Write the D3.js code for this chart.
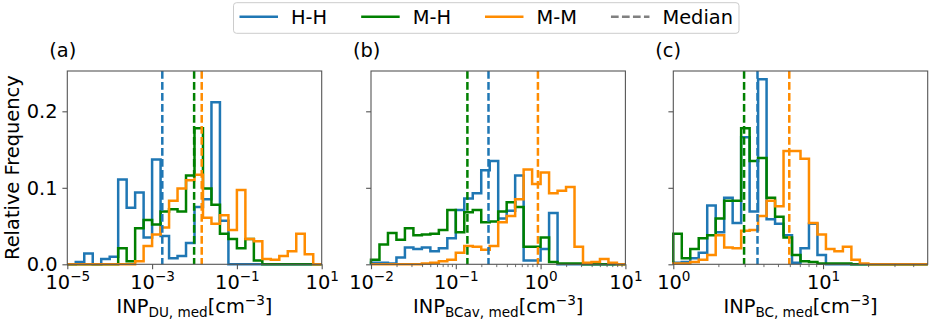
<!DOCTYPE html>
<html>
<head>
<meta charset="utf-8">
<script src="https://cdn.jsdelivr.net/npm/d3@7"></script>
<style>
  body { margin: 0; background: #fff; }
  svg text { font-family: "DejaVu Sans", sans-serif; fill: #000; }
</style>
</head>
<body>
<svg id="chart" width="931" height="326"></svg>
<script>
// ---- groups ----
const groups = ["H-H", "M-H", "M-M"];
const groupColors = ["#1f77b4", "#008000", "#ff8c00"];
const medianLabel = "Median";

// ---- relative frequency per log bin (30 bins per panel) ----
// (a) INP_DU,med, bins 1e-5 .. 1e1
const duHH = [0, 0.003, 0.014, 0, 0.007, 0.010, 0.111, 0.074, 0.094, 0.035,
              0.137, 0.037, 0.008, 0.011, 0.028, 0.075, 0.085, 0.212, 0.057, 0,
              0, 0, 0, 0, 0, 0, 0, 0, 0, 0];
const duMH = [0, 0, 0, 0, 0, 0, 0.021, 0.004, 0.047, 0.058,
              0.052, 0.069, 0.072, 0.069, 0.116, 0.178, 0.099, 0.078, 0.040, 0.033,
              0.021, 0.033, 0.005, 0, 0, 0, 0, 0, 0, 0];
const duMM = [0, 0, 0, 0, 0, 0, 0, 0, 0.004, 0.024,
              0.039, 0.048, 0.083, 0.099, 0.110, 0.117, 0.061, 0.053, 0.064, 0.045,
              0.097, 0.033, 0.030, 0.007, 0.006, 0.011, 0.017, 0.040, 0.013, 0];
// (b) INP_BCav,med, bins 1e-2 .. 1e1
const bcavHH = [0.002, 0.002, 0.001, 0.009, 0.022, 0.020, 0.022, 0.017, 0.021, 0.034,
                0.071, 0.086, 0.093, 0.123, 0.135, 0.060, 0.070, 0.116, 0.005, 0.005,
                0.020, 0.067, 0, 0, 0, 0, 0, 0, 0, 0];
const bcavMH = [0.006, 0.026, 0.041, 0.032, 0.047, 0.038, 0.039, 0.040, 0.045, 0.071,
                0.042, 0.068, 0.071, 0.055, 0.056, 0.069, 0.081, 0.075, 0.023, 0.023,
                0.035, 0.003, 0.001, 0.001, 0.001, 0, 0, 0, 0, 0];
const bcavMM = [0, 0, 0, 0, 0, 0, 0.001, 0.002, 0.004, 0.006,
                0.015, 0.024, 0.023, 0.019, 0.024, 0.055, 0.063, 0.085, 0.124, 0.105,
                0.120, 0.093, 0.096, 0.101, 0.023, 0.002, 0.003, 0.007, 0.002, 0];
// (c) INP_BC,med, bins 1 .. 50
const bcHH = [0.002, 0.003, 0.008, 0.015, 0.077, 0.042, 0.087, 0.054, 0.166, 0.069,
              0.242, 0.059, 0.053, 0.038, 0.002, 0.021, 0.053, 0.012, 0, 0,
              0, 0, 0, 0, 0, 0, 0, 0, 0, 0];
const bcMH = [0.040, 0.008, 0.020, 0.034, 0.038, 0.060, 0.083, 0.083, 0.178, 0.135,
              0.139, 0.087, 0.062, 0.035, 0.012, 0.004, 0.003, 0.001, 0.001, 0.001,
              0.001, 0, 0, 0, 0, 0, 0, 0, 0, 0];
const bcMM = [0.001, 0.001, 0.003, 0.006, 0.012, 0.038, 0.022, 0.021, 0.044, 0.045,
              0.063, 0.083, 0.076, 0.148, 0.148, 0.138, 0.054, 0.039, 0.020, 0.017,
              0.023, 0.006, 0.001, 0, 0, 0, 0, 0, 0, 0];

// ---- medians (cm^-3), in group order ----
const duMedians = [1.74e-3, 9.8e-3, 1.48e-2];
const bcavMedians = [0.243, 0.137, 0.93];
const bcMedians = [3.65, 2.97, 5.95];

// ---- axis ranges and ticks ----
const duRange = [1e-5, 10];
const bcavRange = [1e-2, 10];
const bcRange = [1, 50];
const duTicks = [1e-5, 1e-3, 1e-1, 1e1];
const bcavTicks = [1e-2, 1e-1, 1e0, 1e1];
const bcTicks = [1e0, 1e1];
const yTicks = [0, 0.1, 0.2];
const yMax = 0.2527;
const yLabel = "Relative Frequency";

// ---- layout ----
const fs = 19.4;
const lw = 2.5;
const dash = "7.7,3.3";
const plotTop = 71, plotBottom = 264.3, panelW = 254.4;
const spineColor = "#555";

const panels = [
  { tag: "(a)", x0: 67.3, range: duRange, ticks: duTicks, minor: false,
    values: [duHH, duMH, duMM], medians: duMedians, sub: "DU, med", yLabels: true },
  { tag: "(b)", x0: 371.0, range: bcavRange, ticks: bcavTicks, minor: true,
    values: [bcavHH, bcavMH, bcavMM], medians: bcavMedians, sub: "BCav, med", yLabels: false },
  { tag: "(c)", x0: 673.3, range: bcRange, ticks: bcTicks, minor: true,
    values: [bcHH, bcMH, bcMM], medians: bcMedians, sub: "BC, med", yLabels: false }
];

const svg = d3.select("#chart");
const y = d3.scaleLinear().domain([0, yMax]).range([plotBottom, plotTop]);

function expLabel(v) {
  const e = Math.round(Math.log10(v));
  return e < 0 ? "\u2212" + (-e) : String(e);
}

panels.forEach(p => {
  const x = d3.scaleLog().domain(p.range).range([p.x0, p.x0 + panelW]);
  const lo = Math.log10(p.range[0]), hi = Math.log10(p.range[1]);
  const nb = p.values[0].length;
  const edges = d3.range(nb + 1).map(i => Math.pow(10, lo + (hi - lo) * i / nb));
  const g = svg.append("g");

  // step histograms
  const line = d3.line().x(d => x(d[0])).y(d => y(d[1]));
  p.values.forEach((vals, gi) => {
    const pts = [[edges[0], 0]];
    vals.forEach((v, i) => { pts.push([edges[i], v]); pts.push([edges[i + 1], v]); });
    pts.push([edges[nb], 0]);
    g.append("path")
      .attr("d", line(pts))
      .attr("fill", "none")
      .attr("stroke", groupColors[gi])
      .attr("stroke-width", lw)
      .attr("stroke-linejoin", "miter")
      .attr("stroke-linecap", "butt");
  });

  // median lines
  p.medians.forEach((m, gi) => {
    g.append("line")
      .attr("x1", x(m)).attr("x2", x(m))
      .attr("y1", plotTop).attr("y2", plotBottom)
      .attr("stroke", groupColors[gi])
      .attr("stroke-width", lw)
      .attr("stroke-dasharray", dash);
  });

  // x axis: major ticks
  const xa = g.append("g")
    .attr("transform", `translate(0,${plotBottom})`)
    .attr("color", spineColor)
    .call(d3.axisBottom(x).tickValues(p.ticks).tickSize(4.9).tickSizeOuter(0).tickFormat(""));
  xa.select(".domain").remove();
  xa.selectAll(".tick line").attr("stroke-width", 1.1);
  xa.selectAll(".tick text").remove();
  xa.selectAll(".tick").each(function(d) {
    const t = d3.select(this).append("text")
      .attr("y", 25)
      .attr("text-anchor", "middle")
      .attr("fill", "#000")
      .style("font-size", fs + "px");
    t.append("tspan").text("10");
    t.append("tspan").attr("dy", -8).style("font-size", (fs * 0.7) + "px").text(expLabel(d));
  });

  // x axis: minor ticks
  if (p.minor) {
    const minors = [];
    for (let e = Math.floor(lo); e < Math.ceil(hi); e++) {
      for (let k = 2; k <= 9; k++) {
        const v = k * Math.pow(10, e);
        if (v > p.range[0] && v < p.range[1]) minors.push(v);
      }
    }
    const xm = g.append("g")
      .attr("transform", `translate(0,${plotBottom})`)
      .attr("color", spineColor)
      .call(d3.axisBottom(x).tickValues(minors).tickSize(2.8).tickSizeOuter(0).tickFormat(""));
    xm.select(".domain").remove();
    xm.selectAll(".tick line").attr("stroke-width", 0.85);
    xm.selectAll(".tick text").remove();
  }

  // y axis
  const ya = g.append("g")
    .attr("transform", `translate(${p.x0},0)`)
    .attr("color", spineColor)
    .call(d3.axisLeft(y).tickValues(yTicks).tickSize(4.9).tickSizeOuter(0)
      .tickPadding(4.9).tickFormat(p.yLabels ? d3.format(".1f") : ""));
  ya.select(".domain").remove();
  ya.selectAll(".tick line").attr("stroke-width", 1.1);
  ya.selectAll(".tick text")
    .style("font-size", fs + "px")
    .style("font-family", "'DejaVu Sans', sans-serif")
    .attr("fill", "#000");
  if (!p.yLabels) ya.selectAll(".tick text").remove();

  // frame
  g.append("rect")
    .attr("x", p.x0).attr("y", plotTop)
    .attr("width", panelW).attr("height", plotBottom - plotTop)
    .attr("fill", "none")
    .attr("stroke", spineColor)
    .attr("stroke-width", 1.1);

  // x axis label
  const xl = g.append("text")
    .attr("x", p.x0 + panelW / 2)
    .attr("y", 313)
    .attr("text-anchor", "middle")
    .style("font-size", fs + "px");
  xl.append("tspan").text("INP");
  xl.append("tspan").attr("dy", 4).style("font-size", (fs * 0.7) + "px").text(p.sub);
  xl.append("tspan").attr("dy", -4).text("[cm");
  xl.append("tspan").attr("dy", -8).style("font-size", (fs * 0.7) + "px").text("\u22123");
  xl.append("tspan").attr("dy", 8).text("]");

  // panel tag
  g.append("text")
    .attr("x", p.x0 - 18)
    .attr("y", 57)
    .style("font-size", fs + "px")
    .text(p.tag);
});

// y axis title
svg.append("text")
  .attr("transform", `translate(19,${(plotTop + plotBottom) / 2}) rotate(-90)`)
  .attr("text-anchor", "middle")
  .style("font-size", fs + "px")
  .text(yLabel);

// legend
const leg = svg.append("g");
const legBox = leg.append("rect")
  .attr("x", 233.5).attr("y", 2.7)
  .attr("height", 30.6)
  .attr("rx", 3).attr("ry", 3)
  .attr("fill", "#fff").attr("fill-opacity", 0.8)
  .attr("stroke", "#ccc").attr("stroke-width", 1);
const entries = groups.map((name, i) => ({ name, color: groupColors[i], dashed: false }))
  .concat([{ name: medianLabel, color: "#808080", dashed: true }]);
let hx = 239.5;
let lastEnd = hx;
entries.forEach(en => {
  leg.append("line")
    .attr("x1", hx).attr("x2", hx + 38.5)
    .attr("y1", 16.8).attr("y2", 16.8)
    .attr("stroke", en.color)
    .attr("stroke-width", lw)
    .attr("stroke-dasharray", en.dashed ? dash : null);
  const t = leg.append("text")
    .attr("x", hx + 38.5 + 13)
    .attr("y", 23.8)
    .style("font-size", fs + "px")
    .text(en.name);
  const w = t.node().getComputedTextLength();
  lastEnd = hx + 38.5 + 13 + w;
  hx = lastEnd + 34;
});
legBox.attr("width", lastEnd + 6 - 233.5);
</script>
</body>
</html>
